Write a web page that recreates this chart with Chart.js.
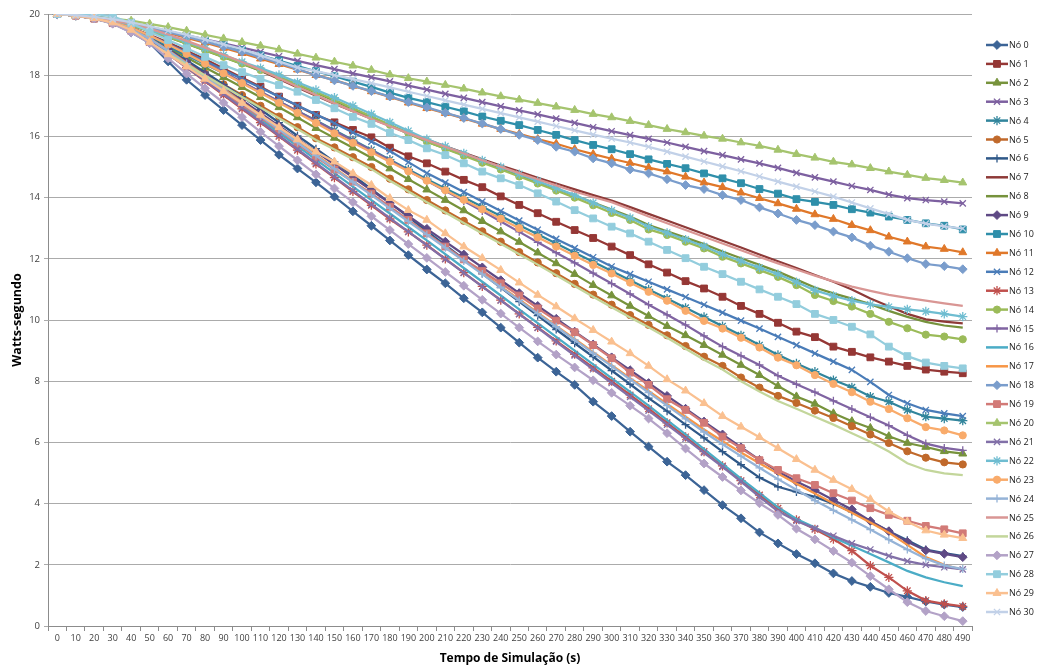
<!DOCTYPE html>
<html>
<head>
<meta charset="utf-8">
<script src="https://cdn.jsdelivr.net/npm/chart.js@4.4.1/dist/chart.umd.min.js"></script>
<style>
  html, body { margin: 0; padding: 0; background: #ffffff; }
  #wrap { width: 1039px; height: 666px; }
</style>
</head>
<body>
<div id="wrap"><canvas id="energia" width="1039" height="666"></canvas></div>
<script>
// Simulation time (s)
const categories = [0,10,20,30,40,50,60,70,80,90,100,110,120,130,140,150,160,170,180,190,200,210,220,230,240,250,260,270,280,290,300,310,320,330,340,350,360,370,380,390,400,410,420,430,440,450,460,470,480,490];

// Remaining energy (Watt-seconds) per node
const no0 = [20,19.95,19.85,19.7,19.4,19.05,18.45,17.85,17.35,16.86,16.37,15.88,15.4,14.95,14.5,14.03,13.55,13.08,12.6,12.12,11.65,11.2,10.71,10.25,9.75,9.26,8.77,8.31,7.88,7.33,6.86,6.35,5.86,5.37,4.93,4.44,3.95,3.52,3.06,2.7,2.35,2.05,1.72,1.47,1.28,1.08,0.95,0.8,0.7,0.62];
const no1 = [20,19.95,19.85,19.72,19.55,19.32,19.07,18.8,18.52,18.22,17.92,17.62,17.3,17.0,16.7,16.46,16.21,15.97,15.63,15.35,15.12,14.85,14.58,14.34,14.04,13.76,13.49,13.21,12.94,12.68,12.4,12.12,11.82,11.55,11.27,11.03,10.76,10.46,10.2,9.91,9.62,9.44,9.13,8.96,8.78,8.64,8.5,8.38,8.31,8.26];
const no2 = [20,19.95,19.88,19.73,19.5,19.22,18.9,18.58,18.25,17.93,17.61,17.28,16.95,16.62,16.27,15.95,15.63,15.3,14.95,14.6,14.26,13.92,13.58,13.23,12.89,12.55,12.2,11.85,11.5,11.14,10.8,10.46,10.13,9.8,9.5,9.18,8.86,8.53,8.2,7.84,7.5,7.26,6.95,6.69,6.47,6.2,5.98,5.85,5.71,5.63];
const no3 = [20,19.95,19.88,19.8,19.68,19.55,19.42,19.3,19.17,19.04,18.9,18.76,18.62,18.47,18.33,18.2,18.06,17.93,17.8,17.66,17.53,17.39,17.26,17.12,16.98,16.85,16.72,16.58,16.44,16.3,16.17,16.04,15.92,15.8,15.66,15.52,15.39,15.25,15.12,14.97,14.81,14.66,14.52,14.38,14.25,14.1,13.98,13.92,13.87,13.81];
const no4 = [20,19.95,19.87,19.75,19.5,19.22,18.94,18.65,18.36,18.06,17.76,17.45,17.14,16.83,16.52,16.2,15.88,15.56,15.24,14.92,14.6,14.3,14.0,13.7,13.4,13.1,12.8,12.5,12.2,11.9,11.6,11.3,11.0,10.7,10.4,10.1,9.8,9.5,9.18,8.86,8.58,8.31,8.04,7.8,7.5,7.33,7.06,6.84,6.78,6.71];
const no5 = [20,19.95,19.87,19.7,19.45,19.1,18.75,18.4,18.05,17.7,17.35,17.0,16.65,16.3,15.94,15.64,15.32,15.0,14.62,14.27,13.92,13.58,13.24,12.9,12.56,12.22,11.88,11.53,11.18,10.83,10.5,10.16,9.84,9.5,9.15,8.8,8.5,8.12,7.79,7.52,7.29,7.04,6.8,6.53,6.26,5.98,5.71,5.5,5.35,5.28];
const no6 = [20,19.95,19.86,19.72,19.5,19.2,18.85,18.48,18.1,17.7,17.3,16.88,16.45,16.02,15.6,15.17,14.73,14.28,13.83,13.37,12.9,12.45,11.99,11.52,11.06,10.6,10.14,9.69,9.24,8.8,8.35,7.9,7.45,7.02,6.58,6.15,5.7,5.27,4.85,4.55,4.38,4.22,4.0,3.73,3.42,3.1,2.8,2.5,2.38,2.28];
const no7 = [20,19.95,19.87,19.78,19.65,19.49,19.3,19.09,18.87,18.64,18.4,18.15,17.88,17.6,17.33,17.07,16.82,16.58,16.35,16.12,15.9,15.68,15.46,15.25,15.05,14.85,14.65,14.46,14.27,14.08,13.9,13.69,13.47,13.25,13.03,12.81,12.59,12.37,12.14,11.92,11.7,11.47,11.25,11.0,10.7,10.45,10.2,10.02,9.95,9.89];
const no8 = [20,19.95,19.87,19.77,19.62,19.44,19.24,19.03,18.81,18.59,18.37,18.15,17.93,17.68,17.43,17.17,16.9,16.63,16.36,16.09,15.83,15.61,15.39,15.17,14.95,14.73,14.51,14.29,14.07,13.84,13.61,13.38,13.1,12.9,12.69,12.48,12.24,12.02,11.8,11.58,11.32,11.06,10.87,10.7,10.52,10.3,10.1,9.94,9.82,9.75];
const no9 = [20,19.95,19.87,19.72,19.5,19.2,18.83,18.43,18.02,17.6,17.18,16.76,16.34,15.92,15.5,15.08,14.66,14.24,13.82,13.4,12.98,12.56,12.14,11.72,11.3,10.88,10.46,10.04,9.62,9.2,8.78,8.36,7.94,7.52,7.1,6.68,6.26,5.84,5.43,5.05,4.72,4.44,4.12,3.81,3.43,3.1,2.75,2.47,2.36,2.25];
const no10 = [20,19.97,19.92,19.84,19.72,19.58,19.44,19.3,19.15,19.0,18.82,18.65,18.48,18.3,18.13,17.97,17.79,17.62,17.43,17.26,17.12,16.97,16.82,16.65,16.51,16.37,16.21,16.05,15.88,15.72,15.58,15.42,15.25,15.1,14.96,14.79,14.63,14.47,14.28,14.13,13.95,13.86,13.76,13.62,13.51,13.38,13.27,13.16,13.08,12.96];
const no11 = [20,19.96,19.9,19.8,19.67,19.53,19.38,19.22,19.06,18.89,18.72,18.54,18.36,18.18,18.0,17.84,17.65,17.47,17.29,17.1,16.92,16.76,16.59,16.41,16.24,16.08,15.91,15.76,15.58,15.42,15.27,15.13,14.98,14.85,14.68,14.49,14.34,14.16,13.98,13.81,13.63,13.45,13.3,13.1,12.93,12.72,12.56,12.4,12.32,12.21];
const no12 = [20,19.95,19.88,19.78,19.55,19.3,19.03,18.75,18.46,18.17,17.88,17.59,17.3,17.01,16.72,16.43,16.13,15.83,15.52,15.16,14.8,14.49,14.18,13.87,13.56,13.25,12.95,12.65,12.35,12.05,11.75,11.5,11.25,11.0,10.75,10.5,10.24,9.98,9.72,9.45,9.18,8.91,8.64,8.37,7.98,7.55,7.28,7.06,6.95,6.86];
const no13 = [20,19.95,19.86,19.7,19.45,19.12,18.7,18.25,17.8,17.35,16.9,16.45,16.0,15.55,15.1,14.65,14.2,13.75,13.3,12.88,12.45,12.0,11.55,11.1,10.65,10.2,9.76,9.32,8.88,8.44,8.0,7.55,7.1,6.64,6.18,5.7,5.23,4.75,4.28,3.85,3.47,3.16,2.84,2.46,1.97,1.59,1.15,0.83,0.72,0.64];
const no14 = [20,19.95,19.88,19.78,19.63,19.45,19.25,19.04,18.82,18.6,18.38,18.17,17.95,17.7,17.45,17.2,16.92,16.65,16.38,16.1,15.83,15.6,15.37,15.14,14.92,14.69,14.46,14.23,14.0,13.75,13.5,13.27,12.96,12.78,12.56,12.34,12.07,11.85,11.63,11.41,11.14,10.82,10.62,10.44,10.2,9.94,9.73,9.52,9.46,9.37];
const no15 = [20,19.95,19.88,19.75,19.55,19.3,19.02,18.72,18.41,18.1,17.78,17.46,17.14,16.82,16.5,16.18,15.86,15.54,15.21,14.88,14.55,14.22,13.89,13.56,13.22,12.88,12.54,12.2,11.87,11.53,11.19,10.85,10.5,10.17,9.84,9.48,9.13,8.83,8.53,8.18,7.9,7.64,7.36,7.09,6.82,6.55,6.23,5.96,5.82,5.74];
const no16 = [20,19.95,19.86,19.71,19.47,19.15,18.75,18.32,17.88,17.44,17.0,16.56,16.12,15.68,15.24,14.8,14.36,13.92,13.48,13.04,12.6,12.15,11.7,11.25,10.8,10.35,9.9,9.45,9.0,8.55,8.1,7.65,7.2,6.73,6.26,5.78,5.3,4.82,4.35,3.88,3.5,3.22,2.89,2.62,2.35,2.08,1.8,1.59,1.43,1.3];
const no17 = [20,19.95,19.87,19.72,19.5,19.2,18.82,18.4,17.98,17.55,17.12,16.69,16.26,15.83,15.4,14.97,14.54,14.11,13.68,13.25,12.82,12.39,11.96,11.53,11.1,10.67,10.24,9.81,9.38,8.95,8.52,8.1,7.68,7.26,6.84,6.42,6.04,5.67,5.32,4.98,4.65,4.33,4.0,3.7,3.38,3.05,2.65,2.25,2.0,1.83];
const no18 = [20,19.96,19.9,19.81,19.69,19.56,19.41,19.26,19.1,18.93,18.76,18.58,18.4,18.2,18.0,17.83,17.65,17.48,17.3,17.12,16.95,16.77,16.6,16.42,16.24,16.05,15.88,15.66,15.5,15.28,15.12,14.92,14.79,14.6,14.41,14.28,14.08,13.92,13.68,13.48,13.27,13.1,12.89,12.7,12.43,12.23,12.02,11.83,11.76,11.66];
const no19 = [20,19.95,19.86,19.7,19.45,19.08,18.68,18.27,17.86,17.45,17.03,16.62,16.2,15.76,15.33,14.92,14.52,14.13,13.7,13.27,12.83,12.4,11.98,11.6,11.2,10.8,10.38,9.98,9.6,9.18,8.75,8.28,7.88,7.41,7.06,6.64,6.19,5.81,5.42,5.1,4.83,4.61,4.34,4.1,3.85,3.63,3.44,3.27,3.16,3.03];
const no20 = [20,19.95,19.9,19.85,19.78,19.68,19.57,19.45,19.32,19.2,19.08,18.96,18.84,18.7,18.57,18.44,18.31,18.17,18.02,17.9,17.79,17.68,17.56,17.43,17.31,17.2,17.09,16.97,16.86,16.73,16.62,16.5,16.37,16.24,16.13,16.02,15.92,15.8,15.69,15.56,15.42,15.3,15.17,15.08,14.96,14.85,14.74,14.64,14.57,14.49];
const no21 = [20,19.95,19.86,19.7,19.45,19.12,18.7,18.26,17.82,17.38,16.93,16.48,16.03,15.58,15.13,14.68,14.23,13.78,13.33,12.89,12.44,11.99,11.54,11.09,10.64,10.19,9.74,9.29,8.84,8.39,7.94,7.49,7.04,6.58,6.12,5.66,5.2,4.72,4.22,3.75,3.43,3.19,2.95,2.7,2.5,2.29,2.12,2.0,1.92,1.85];
const no22 = [20,19.95,19.88,19.79,19.65,19.48,19.29,19.09,18.88,18.66,18.44,18.23,18.01,17.77,17.52,17.27,17.0,16.73,16.46,16.18,15.91,15.68,15.45,15.22,15.0,14.77,14.54,14.31,14.08,13.83,13.58,13.34,13.05,12.85,12.63,12.41,12.15,11.93,11.71,11.5,11.24,10.97,10.79,10.63,10.51,10.43,10.35,10.28,10.2,10.11];
const no23 = [20,19.95,19.87,19.74,19.55,19.3,19.0,18.7,18.38,18.06,17.74,17.42,17.1,16.77,16.44,16.1,15.79,15.48,15.17,14.86,14.55,14.24,13.93,13.62,13.31,13.0,12.7,12.4,12.1,11.8,11.52,11.22,10.92,10.63,10.3,9.97,9.72,9.42,9.1,8.77,8.52,8.2,7.91,7.64,7.33,7.09,6.79,6.5,6.39,6.23];
const no24 = [20,19.95,19.87,19.72,19.49,19.19,18.8,18.38,17.95,17.52,17.09,16.66,16.23,15.8,15.37,14.94,14.51,14.08,13.65,13.22,12.79,12.36,11.93,11.5,11.07,10.64,10.21,9.78,9.35,8.92,8.49,8.06,7.63,7.2,6.77,6.34,5.94,5.55,5.17,4.8,4.45,4.1,3.78,3.47,3.15,2.82,2.5,2.2,1.98,1.86];
const no25 = [20,19.95,19.88,19.8,19.68,19.52,19.33,19.12,18.9,18.67,18.43,18.18,17.9,17.62,17.35,17.08,16.82,16.57,16.33,16.1,15.88,15.66,15.44,15.22,15.01,14.8,14.6,14.4,14.2,14.02,13.85,13.62,13.38,13.16,12.94,12.72,12.5,12.28,12.06,11.85,11.65,11.45,11.26,11.09,10.95,10.82,10.72,10.63,10.54,10.46];
const no26 = [20,19.95,19.86,19.68,19.42,19.06,18.7,18.34,17.99,17.64,17.29,16.94,16.59,16.24,15.88,15.57,15.25,14.93,14.55,14.2,13.85,13.51,13.17,12.83,12.49,12.15,11.81,11.46,11.11,10.76,10.42,10.08,9.76,9.42,9.06,8.7,8.38,8.0,7.66,7.35,7.1,6.84,6.58,6.3,6.02,5.7,5.32,5.1,4.99,4.93];
const no27 = [20,19.95,19.85,19.68,19.4,19.05,18.55,18.05,17.57,17.1,16.63,16.15,15.68,15.22,14.76,14.3,13.85,13.39,12.94,12.48,12.03,11.57,11.12,10.66,10.21,9.75,9.3,8.87,8.45,8.03,7.62,7.2,6.78,6.3,5.8,5.31,4.87,4.43,4.01,3.63,3.18,2.83,2.45,2.07,1.63,1.2,0.78,0.49,0.32,0.16];
const no28 = [20,20,20,19.92,19.7,19.42,19.15,18.88,18.6,18.33,18.1,17.88,17.68,17.46,17.19,16.92,16.64,16.41,16.12,15.88,15.61,15.39,15.12,14.85,14.63,14.41,14.14,13.87,13.59,13.32,13.05,12.83,12.56,12.29,12.02,11.74,11.5,11.25,11.0,10.76,10.52,10.2,10.0,9.78,9.53,9.13,8.82,8.61,8.5,8.42];
const no29 = [20,19.95,19.86,19.72,19.48,19.08,18.68,18.28,17.88,17.48,17.09,16.7,16.3,15.9,15.5,15.17,14.79,14.41,13.98,13.59,13.27,12.83,12.4,12.02,11.63,11.22,10.82,10.44,10.05,9.67,9.29,8.91,8.5,8.06,7.69,7.28,6.86,6.51,6.17,5.81,5.45,5.1,4.77,4.47,4.14,3.74,3.41,3.12,2.98,2.87];
const no30 = [20,19.96,19.91,19.83,19.73,19.6,19.46,19.32,19.17,19.01,18.85,18.65,18.45,18.25,18.13,18.0,17.87,17.74,17.6,17.46,17.32,17.18,17.04,16.9,16.76,16.62,16.48,16.34,16.2,16.06,15.93,15.8,15.66,15.5,15.34,15.18,15.02,14.86,14.69,14.52,14.36,14.2,14.03,13.84,13.65,13.46,13.27,13.15,13.06,12.99];

const seriesValues = [no0,no1,no2,no3,no4,no5,no6,no7,no8,no9,no10,no11,no12,no13,no14,no15,no16,no17,no18,no19,no20,no21,no22,no23,no24,no25,no26,no27,no28,no29,no30];
const seriesNames = seriesValues.map((_, i) => 'Nó ' + i);

// Line colours, one per node
const palette = [
  '#3C6496','#953735','#77933C','#7D60A0','#31859C','#C0692B','#2F5888','#8E3A38','#76923C','#5F4A85',
  '#2F8FAA','#E0782A','#4A7CB8','#C0504D','#9BBB59','#8064A2','#4BACC6','#F79646','#7A9DCC','#D27A77',
  '#A5C46E','#8270A8','#6FBDD1','#F9AB6B','#95B3D7','#D99694','#C3D69B','#B3A2C7','#93CDDD','#FAC090',
  '#C2D1E8'
];
// Marker cycle: diamond, square, triangle, x, star, circle, plus, none, none
const markerCycle = ['rectRot','rect','triangle','crossRot','star','circle','cross',null,null];
const markerRadius = { rectRot: 4.4, rect: 4.8, triangle: 4.6, crossRot: 4.4, star: 4.6, circle: 3.6, cross: 4 };
const filledMarkers = ['rectRot','rect','triangle','circle'];

const FONT = "'Open Sans', 'Liberation Sans', sans-serif";

const datasets = seriesValues.map((vals, i) => {
  const shape = markerCycle[i % markerCycle.length];
  return {
    label: seriesNames[i],
    data: vals,
    borderColor: palette[i],
    backgroundColor: palette[i],
    borderWidth: 2.25,
    tension: 0,
    pointStyle: shape || 'circle',
    pointRadius: shape ? markerRadius[shape] : 0,
    pointHoverRadius: 0,
    pointBackgroundColor: palette[i],
    pointBorderColor: palette[i],
    pointBorderWidth: shape && filledMarkers.includes(shape) ? 1 : 1.3,
    order: seriesValues.length - 1 - i
  };
});

// Legend on the right: a short line with the node's marker, then its name
const seriesKey = {
  id: 'seriesKey',
  afterDraw(chart) {
    const ctx = chart.ctx;
    const x0 = chart.chartArea.right + 14;
    const top = 45, step = 18.9;
    chart.data.datasets.forEach((ds, i) => {
      const y = top + i * step;
      ctx.save();
      ctx.strokeStyle = ds.borderColor;
      ctx.lineWidth = 2.5;
      ctx.beginPath();
      ctx.moveTo(x0, y);
      ctx.lineTo(x0 + 22, y);
      ctx.stroke();
      if (ds.pointRadius > 0) {
        ctx.fillStyle = ds.pointBackgroundColor;
        ctx.strokeStyle = ds.pointBorderColor;
        ctx.lineWidth = ds.pointBorderWidth;
        Chart.helpers.drawPoint(ctx, { pointStyle: ds.pointStyle, radius: ds.pointRadius, rotation: 0, borderWidth: ds.pointBorderWidth }, x0 + 11, y);
      }
      ctx.fillStyle = '#1a1a1a';
      ctx.font = '9px ' + FONT;
      ctx.textAlign = 'left';
      ctx.textBaseline = 'middle';
      ctx.fillText(ds.label, x0 + 23, y + 0.5);
      ctx.restore();
    });
  }
};

new Chart(document.getElementById('energia'), {
  type: 'line',
  data: { labels: categories, datasets },
  plugins: [seriesKey],
  options: {
    responsive: false,
    animation: false,
    devicePixelRatio: 1,
    layout: { padding: { left: 4, right: 67, top: 14, bottom: 0 } },
    plugins: { legend: { display: false }, tooltip: { enabled: false } },
    scales: {
      x: {
        type: 'category',
        offset: true,
        grid: { display: true, drawOnChartArea: false, drawTicks: true, tickLength: 5, offset: true, color: '#8c8c8c' },
        border: { display: true, color: '#8c8c8c', width: 1 },
        ticks: { autoSkip: false, maxRotation: 0, minRotation: 0, color: '#404040', font: { family: FONT, size: 9 }, padding: 2 },
        title: { display: true, text: 'Tempo de Simulação (s)', color: '#000', font: { family: FONT, size: 12, weight: 'bold' }, padding: { top: 1, bottom: 0 } },
        afterFit(scale) { scale.height = 40; }
      },
      y: {
        min: 0,
        max: 20,
        ticks: { stepSize: 2, color: '#404040', font: { family: FONT, size: 9.5 }, padding: 4 },
        grid: { color: '#ababab', lineWidth: 1, tickLength: 4, drawTicks: true },
        border: { display: true, color: '#8c8c8c', width: 1 },
        title: { display: true, text: 'Watts-segundo', color: '#000', font: { family: FONT, size: 12.5, weight: 'bold' }, padding: { top: 6, bottom: 0 } },
        afterFit(scale) { scale.width = 44; }
      }
    }
  }
});
</script>
</body>
</html>
